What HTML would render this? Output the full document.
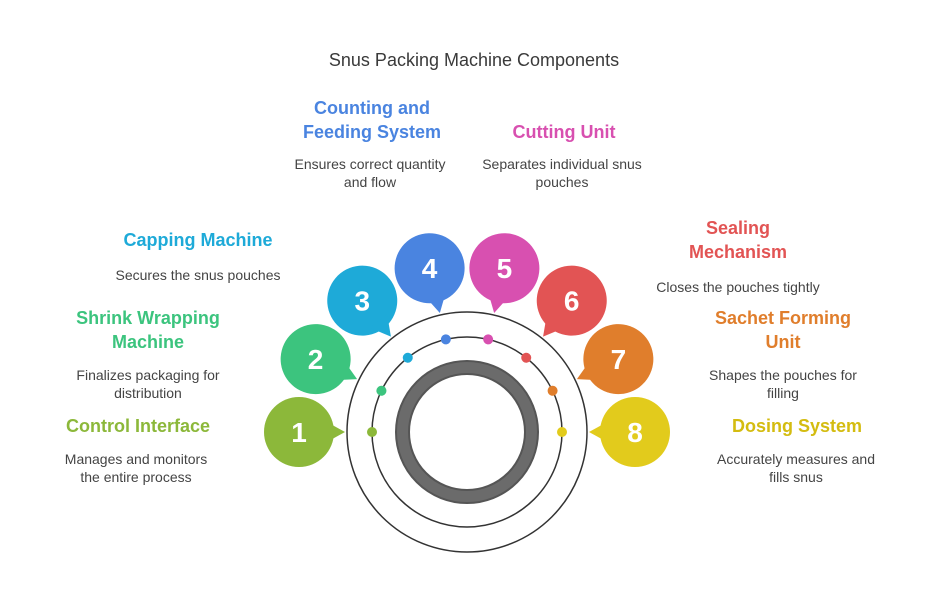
<!DOCTYPE html>
<html><head><meta charset="utf-8"><style>
html,body{margin:0;padding:0;background:#fff;}
svg{display:block;font-family:"Liberation Sans",sans-serif;}
.h{font-size:18px;font-weight:bold;text-anchor:middle;}
.d{font-size:14px;fill:#444;text-anchor:middle;}
.n{font-size:28px;font-weight:bold;fill:#fff;text-anchor:middle;}
</style></head><body>
<svg width="948" height="612" viewBox="0 0 948 612">
<text x="474" y="66" text-anchor="middle" font-size="18" fill="#3a3a3a">Snus Packing Machine Components</text>

<circle cx="467" cy="432" r="120" fill="none" stroke="#333" stroke-width="1.5"/>
<circle cx="467" cy="432" r="95" fill="none" stroke="#333" stroke-width="1.5"/>
<circle cx="467" cy="432" r="64.5" fill="none" stroke="#555" stroke-width="15"/>
<circle cx="467" cy="432" r="64.5" fill="none" stroke="#6b6b6b" stroke-width="11"/>

<g transform="translate(467,432)">
<g transform="rotate(180)"><circle cx="168" cy="0" r="35" fill="#8cb83a"/><polygon points="122,0 142,-11 142,11" fill="#8cb83a"/><circle cx="95" cy="0" r="5" fill="#8cb83a"/></g>
<g transform="rotate(205.714)"><circle cx="168" cy="0" r="35" fill="#3cc47e"/><polygon points="122,0 142,-11 142,11" fill="#3cc47e"/><circle cx="95" cy="0" r="5" fill="#3cc47e"/></g>
<g transform="rotate(231.428)"><circle cx="168" cy="0" r="35" fill="#1eaad8"/><polygon points="122,0 142,-11 142,11" fill="#1eaad8"/><circle cx="95" cy="0" r="5" fill="#1eaad8"/></g>
<g transform="rotate(257.143)"><circle cx="168" cy="0" r="35" fill="#4a84e0"/><polygon points="122,0 142,-11 142,11" fill="#4a84e0"/><circle cx="95" cy="0" r="5" fill="#4a84e0"/></g>
<g transform="rotate(282.857)"><circle cx="168" cy="0" r="35" fill="#d850b0"/><polygon points="122,0 142,-11 142,11" fill="#d850b0"/><circle cx="95" cy="0" r="5" fill="#d850b0"/></g>
<g transform="rotate(308.571)"><circle cx="168" cy="0" r="35" fill="#e25454"/><polygon points="122,0 142,-11 142,11" fill="#e25454"/><circle cx="95" cy="0" r="5" fill="#e25454"/></g>
<g transform="rotate(334.286)"><circle cx="168" cy="0" r="35" fill="#e07e2c"/><polygon points="122,0 142,-11 142,11" fill="#e07e2c"/><circle cx="95" cy="0" r="5" fill="#e07e2c"/></g>
<g transform="rotate(360)"><circle cx="168" cy="0" r="35" fill="#e2cb1c"/><polygon points="122,0 142,-11 142,11" fill="#e2cb1c"/><circle cx="95" cy="0" r="5" fill="#e2cb1c"/></g>
</g>

<text class="n" x="299" y="442">1</text>
<text class="n" x="315.6" y="369">2</text>
<text class="n" x="362.3" y="310.6">3</text>
<text class="n" x="429.6" y="278.2">4</text>
<text class="n" x="504.4" y="278.2">5</text>
<text class="n" x="571.7" y="310.6">6</text>
<text class="n" x="618.4" y="369">7</text>
<text class="n" x="635" y="442">8</text>

<text class="h" x="372" y="114" fill="#4a84e0">Counting and</text>
<text class="h" x="372" y="138" fill="#4a84e0">Feeding System</text>
<text class="d" x="370" y="169">Ensures correct quantity</text>
<text class="d" x="370" y="187">and flow</text>

<text class="h" x="564" y="138" fill="#d850b0">Cutting Unit</text>
<text class="d" x="562" y="169">Separates individual snus</text>
<text class="d" x="562" y="187">pouches</text>

<text class="h" x="198" y="246" fill="#1eaad8">Capping Machine</text>
<text class="d" x="198" y="280">Secures the snus pouches</text>

<text class="h" x="738" y="234" fill="#e25454">Sealing</text>
<text class="h" x="738" y="258" fill="#e25454">Mechanism</text>
<text class="d" x="738" y="292">Closes the pouches tightly</text>

<text class="h" x="148" y="324" fill="#3cc47e">Shrink Wrapping</text>
<text class="h" x="148" y="348" fill="#3cc47e">Machine</text>
<text class="d" x="148" y="380">Finalizes packaging for</text>
<text class="d" x="148" y="398">distribution</text>

<text class="h" x="783" y="324" fill="#e07e2c">Sachet Forming</text>
<text class="h" x="783" y="348" fill="#e07e2c">Unit</text>
<text class="d" x="783" y="380">Shapes the pouches for</text>
<text class="d" x="783" y="398">filling</text>

<text class="h" x="138" y="432" fill="#8cb83a">Control Interface</text>
<text class="d" x="136" y="464">Manages and monitors</text>
<text class="d" x="136" y="482">the entire process</text>

<text class="h" x="797" y="432" fill="#d4bc10">Dosing System</text>
<text class="d" x="796" y="464">Accurately measures and</text>
<text class="d" x="796" y="482">fills snus</text>
</svg>
</body></html>
